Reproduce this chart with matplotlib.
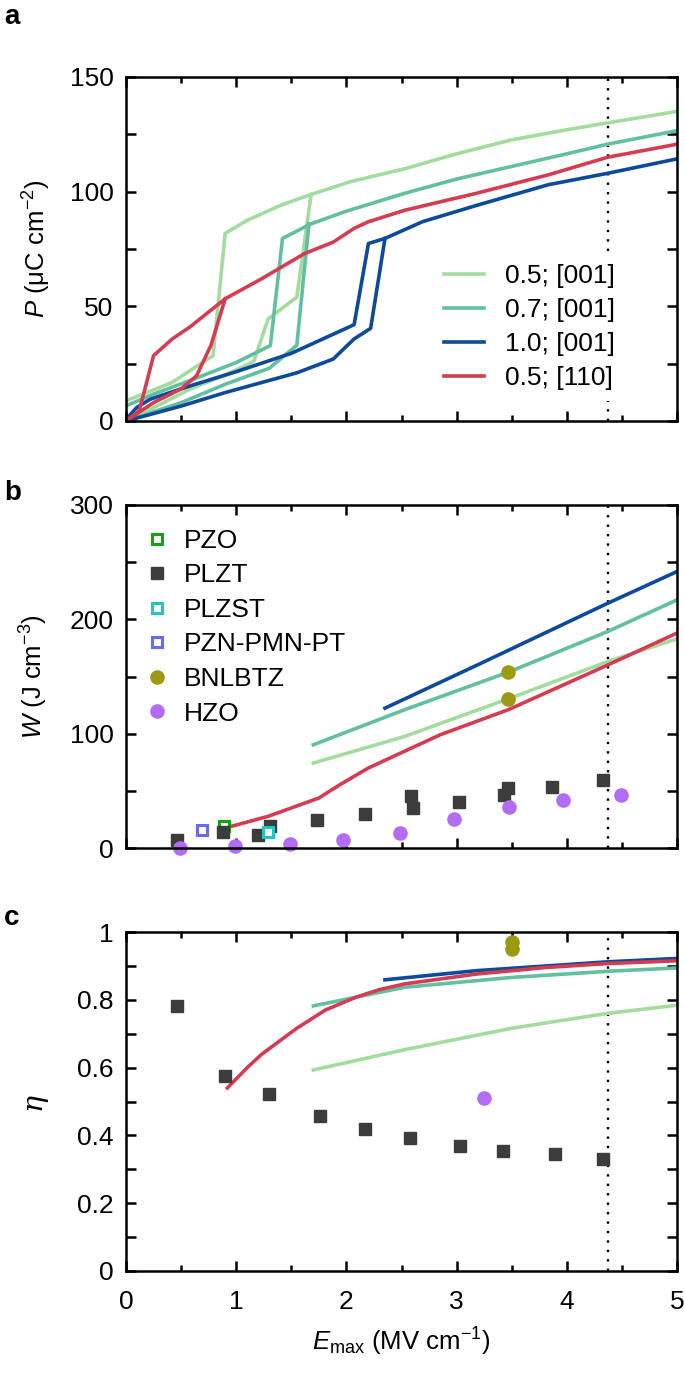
import matplotlib
matplotlib.use('Agg')
import matplotlib.pyplot as plt
from matplotlib.ticker import MultipleLocator

plt.rcParams['font.family'] = ['Liberation Sans', 'DejaVu Sans']
plt.rcParams['mathtext.fontset'] = 'custom'
plt.rcParams['mathtext.rm'] = 'Liberation Sans'
plt.rcParams['mathtext.it'] = 'Liberation Sans:italic'
plt.rcParams['mathtext.default'] = 'regular'

# ---- panel a: P-E branches (charging = lower, discharging = upper)
lg_up_x = [0, 0.42, 0.53, 0.79, 0.90, 1.1, 1.4, 1.68, 2.04, 2.53, 3.0, 3.5, 4.0, 4.37, 5.0]
lg_up_y = [8.8, 16.8, 20.4, 28.5, 81.8, 87.5, 94, 98.8, 104.4, 110, 116.5, 122.6, 127, 130, 135]
lg_lo_x = [0, 0.3, 0.58, 0.9, 1.16, 1.29, 1.55, 1.68]
lg_lo_y = [0, 7, 13.9, 20, 26, 44.5, 54, 98.8]

mg_up_x = [0, 0.25, 0.6, 1.0, 1.31, 1.42, 1.68, 2.0, 2.53, 3.0, 3.5, 4.0, 4.37, 5.0]
mg_up_y = [6.6, 11.7, 18, 25.5, 32.9, 79.6, 86, 91.5, 99.3, 105.5, 111, 116.5, 120.7, 126.6]
mg_lo_x = [0, 0.5, 0.9, 1.3, 1.55, 1.66]
mg_lo_y = [0, 8, 16, 23, 33, 86]

db_up_x = [0, 0.1, 0.22, 0.58, 1.0, 1.5, 2.07, 2.2, 2.35, 2.69, 3.18, 3.83, 4.37, 5.0]
db_up_y = [0.7, 6, 9.5, 15.3, 21.5, 29.5, 42, 77.4, 79.6, 86.9, 94, 103, 108, 114.3]
db_lo_x = [0, 0.5, 0.9, 1.55, 1.88, 2.07, 2.22, 2.35]
db_lo_y = [0, 6.5, 12.4, 21, 27, 35.8, 40.4, 79.6]

rd_up_x = [0, 0.12, 0.25, 0.42, 0.58, 0.9, 1.23, 1.62, 1.88, 2.07, 2.2, 2.53, 3.18, 3.83, 4.37, 5.0]
rd_up_y = [0, 4.4, 28.5, 35.8, 41, 53.3, 62, 73, 78, 84, 86.9, 91.9, 99.3, 107.3, 115, 120.7]
rd_lo_x = [0, 0.25, 0.5, 0.64, 0.77, 0.9]
rd_lo_y = [0, 8, 14, 19.7, 32.9, 53.3]

# ---- panel b: energy density W
w_db_x = [2.35, 3.2, 4.37, 5.0]
w_db_y = [122.3, 160.6, 214, 241.8]
w_mg_x = [1.7, 2.53, 3.47, 4.37, 5.0]
w_mg_y = [90.3, 121, 153.8, 189.3, 217]
w_lg_x = [1.7, 2.53, 3.47, 4.37, 5.0]
w_lg_y = [74.3, 97.6, 130.5, 163, 183]
w_rd_x = [0.9, 1.29, 1.75, 1.94, 2.2, 2.85, 3.47, 4.37, 5.0]
w_rd_y = [17.5, 27.7, 43.7, 55.3, 70, 99, 121, 160, 188]

plzt_w_x = [0.46, 0.88, 1.2, 1.31, 1.73, 2.17, 2.59, 2.6, 3.02, 3.43, 3.47, 3.87, 4.33]
plzt_w_y = [7.3, 14, 11.7, 19.5, 24.2, 30, 45.7, 35, 40.2, 46, 52.4, 53, 59.1]
pzo_x, pzo_y = [0.89], [19.5]
plzst_x, plzst_y = [1.29], [13.7]
pzn_x, pzn_y = [0.69], [15.4]
bnl_w_x = [3.47, 3.47]
bnl_w_y = [153.5, 130.5]
hzo_w_x = [0.49, 0.99, 1.49, 1.97, 2.49, 2.98, 3.48, 3.97, 4.49]
hzo_w_y = [0.0, 1.5, 3.5, 6.7, 13, 25.6, 35.5, 41.7, 46.6]

# ---- panel c: efficiency eta
e_db_x = [2.35, 3.18, 4.37, 5.0]
e_db_y = [0.859, 0.886, 0.912, 0.922]
e_mg_x = [1.7, 2.53, 3.5, 4.37, 5.0]
e_mg_y = [0.782, 0.837, 0.866, 0.884, 0.894]
e_lg_x = [1.7, 2.53, 3.5, 4.37, 5.0]
e_lg_y = [0.593, 0.653, 0.716, 0.76, 0.784]
e_rd_x = [0.92, 1.1, 1.23, 1.4, 1.55, 1.81, 2.09, 2.3, 2.53, 3.18, 3.8, 4.37, 5.0]
e_rd_y = [0.54, 0.6, 0.639, 0.68, 0.716, 0.77, 0.808, 0.83, 0.847, 0.876, 0.895, 0.907, 0.915]

plzt_e_x = [0.46, 0.9, 1.3, 1.76, 2.17, 2.58, 3.03, 3.42, 3.89, 4.33]
plzt_e_y = [0.781, 0.576, 0.521, 0.458, 0.418, 0.392, 0.368, 0.355, 0.344, 0.329]
hzo_e_x, hzo_e_y = [3.25], [0.511]
bnl_e_x = [3.5, 3.5]
bnl_e_y = [0.97, 0.949]

e_limit = 4.37

c_lg = '#a3dc9e'
c_mg = '#62bfa0'
c_db = '#0e4a9a'
c_rd = '#d43d51'
c_sq = '#3c3c3c'
lw = 2.6
fs = 19
fl = 18.5

fig = plt.figure(figsize=(6.85, 13.91), dpi=100)
L, Wd = 126 / 685, 551 / 685
ax_a = fig.add_axes([L, 1 - 421 / 1391, Wd, 344 / 1391])
ax_b = fig.add_axes([L, 1 - 848 / 1391, Wd, 343 / 1391])
ax_c = fig.add_axes([L, 1 - 1271 / 1391, Wd, 339 / 1391])


def style(ax):
    ax.set_xlim(0, 5)
    ax.xaxis.set_major_locator(MultipleLocator(1))
    ax.xaxis.set_minor_locator(MultipleLocator(0.5))
    ax.tick_params(which='both', direction='in', top=True, right=True,
                   width=1.8, labelsize=fs, pad=9)
    ax.tick_params(axis='x', pad=14)
    ax.tick_params(which='major', length=7)
    ax.tick_params(which='minor', length=4)
    ax.tick_params(axis='y', which='minor', length=7)
    for s in ax.spines.values():
        s.set_linewidth(1.8)
    ax.axvline(e_limit, color='black', ls=(0, (1, 3)), lw=1.7, zorder=0)


# panel a
ax_a.plot(lg_up_x, lg_up_y, color=c_lg, lw=lw, label='0.5; [001]')
ax_a.plot(lg_lo_x, lg_lo_y, color=c_lg, lw=lw)
ax_a.plot(mg_up_x, mg_up_y, color=c_mg, lw=lw, label='0.7; [001]')
ax_a.plot(mg_lo_x, mg_lo_y, color=c_mg, lw=lw)
ax_a.plot(db_up_x, db_up_y, color=c_db, lw=lw, label='1.0; [001]')
ax_a.plot(db_lo_x, db_lo_y, color=c_db, lw=lw)
ax_a.plot(rd_up_x, rd_up_y, color=c_rd, lw=lw, label='0.5; [110]')
ax_a.plot(rd_lo_x, rd_lo_y, color=c_rd, lw=lw)
style(ax_a)
ax_a.set_ylim(0, 150)
ax_a.yaxis.set_major_locator(MultipleLocator(50))
ax_a.yaxis.set_minor_locator(MultipleLocator(25))
ax_a.set_xticklabels([])
ax_a.set_ylabel(r'$\mathit{P}$ ($\mathrm{\mu}$C cm$^{-2}$)', fontsize=fl, labelpad=12)
ax_a.legend(loc='lower right', bbox_to_anchor=(0.93, 0.02), fontsize=fs,
            frameon=True, framealpha=1, edgecolor='none', fancybox=False,
            handlelength=1.5, handletextpad=0.8, labelspacing=0.38)

# panel b
ax_b.plot(w_lg_x, w_lg_y, color=c_lg, lw=lw)
ax_b.plot(w_mg_x, w_mg_y, color=c_mg, lw=lw)
ax_b.plot(w_db_x, w_db_y, color=c_db, lw=lw)
ax_b.plot(w_rd_x, w_rd_y, color=c_rd, lw=lw)
ax_b.plot(pzo_x, pzo_y, 's', ms=6.5, mfc='white', mec='#15a015', mew=2.2, ls='none', label='PZO')
ax_b.plot(plzt_w_x, plzt_w_y, 's', ms=8.5, color=c_sq, ls='none', label='PLZT')
ax_b.plot(plzst_x, plzst_y, 's', ms=6.5, mfc='white', mec='#22c4c4', mew=2.2, ls='none', label='PLZST')
ax_b.plot(pzn_x, pzn_y, 's', ms=6.5, mfc='white', mec='#6a6af0', mew=2.2, ls='none', label='PZN-PMN-PT')
ax_b.plot(bnl_w_x, bnl_w_y, 'o', ms=9.5, color='#9c9a12', ls='none', label='BNLBTZ')
ax_b.plot(hzo_w_x, hzo_w_y, 'o', ms=9.5, color='#b36cf5', ls='none', label='HZO', clip_on=False)
style(ax_b)
ax_b.set_ylim(0, 300)
ax_b.yaxis.set_major_locator(MultipleLocator(100))
ax_b.yaxis.set_minor_locator(MultipleLocator(50))
ax_b.set_xticklabels([])
ax_b.set_ylabel(r'$\mathit{W}$ (J cm$^{-3}$)', fontsize=fl, labelpad=14)
ax_b.legend(loc='upper left', bbox_to_anchor=(-0.01, 1.0), fontsize=fs, frameon=False,
            handlelength=1.0, handletextpad=0.5, labelspacing=0.4, borderaxespad=0.5)

# panel c
ax_c.plot(e_lg_x, e_lg_y, color=c_lg, lw=lw)
ax_c.plot(e_mg_x, e_mg_y, color=c_mg, lw=lw)
ax_c.plot(e_db_x, e_db_y, color=c_db, lw=lw)
ax_c.plot(e_rd_x, e_rd_y, color=c_rd, lw=lw)
ax_c.plot(plzt_e_x, plzt_e_y, 's', ms=8.5, color=c_sq, ls='none')
ax_c.plot(hzo_e_x, hzo_e_y, 'o', ms=9.5, color='#b36cf5', ls='none')
ax_c.plot(bnl_e_x, bnl_e_y, 'o', ms=9.5, color='#9c9a12', ls='none')
style(ax_c)
ax_c.set_ylim(0, 1)
ax_c.set_yticks([0, 0.2, 0.4, 0.6, 0.8, 1.0])
ax_c.set_yticklabels(['0', '0.2', '0.4', '0.6', '0.8', '1'])
ax_c.yaxis.set_minor_locator(MultipleLocator(0.1))
ax_c.set_ylabel('η', fontsize=fl + 2, family='DejaVu Serif', style='italic', labelpad=22)
ax_c.set_xlabel(r'$\mathit{E}_{\mathrm{max}}$ (MV cm$^{-1}$)', fontsize=fl, labelpad=8)

for lab, y in [('a', 4), ('b', 480), ('c', 905)]:
    fig.text(4 / 685, 1 - y / 1391, lab, fontsize=20, fontweight='bold', va='top', ha='left')

fig.savefig('out.png', dpi=100)
